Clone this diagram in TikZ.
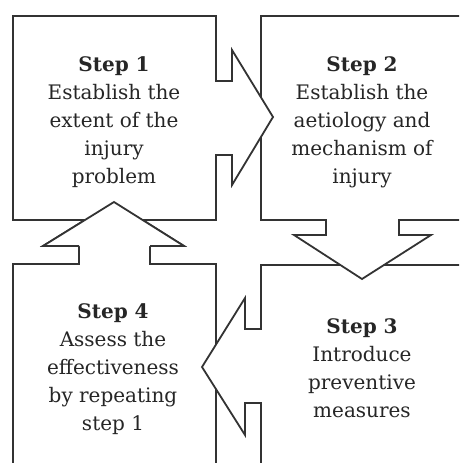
\documentclass[tikz,border=0pt]{standalone}
\usepackage{fontspec}
\setmainfont{DejaVu Serif}
\usetikzlibrary{positioning}

\begin{document}
\begin{tikzpicture}[x=1pt,y=-1pt,
    box/.style={draw=black!80, line width=1.8pt, fill=white, line join=miter},
    steptext/.style={align=center, text=black!85, font=\fontsize{20}{28}\selectfont}]
    \useasboundingbox (0,0) rectangle (459,463);
    \clip (0,0) rectangle (459,463);
    % step 4, arrow up
    \path[box] (13,264) -- (79,264) -- (79,246) -- (43,246) -- (114,202) -- (184,246) -- (150,246) -- (150,264) -- (216,264) -- (216,480) -- (13,480) -- cycle;
    % step 3, arrow left
    \path[box] (261,265) -- (470,265) -- (470,480) -- (261,480) -- (261,403) -- (245,403) -- (245,435) -- (202,367) -- (245,298) -- (245,329) -- (261,329) -- cycle;
    % step 2, arrow down
    \path[box] (261,16) -- (470,16) -- (470,220) -- (399,220) -- (399,235) -- (431,235) -- (362,279) -- (294,235) -- (326,235) -- (326,220) -- (261,220) -- cycle;
    % step 1, arrow right
    \path[box] (13,16) -- (216,16) -- (216,81) -- (232,81) -- (232,50) -- (273,117) -- (232,185) -- (232,155) -- (216,155) -- (216,220) -- (13,220) -- cycle;
    % head of step 4 again, over step 1
    \path[box] (79,246) -- (43,246) -- (114,202) -- (184,246) -- (150,246);
    \node[steptext] (s1) at (114,122) {\textbf{Step 1}\\Establish the\\extent of the\\injury\\problem};
    \node[steptext] (s2) at (362,122) {\textbf{Step 2}\\Establish the\\aetiology and\\mechanism of\\injury};
    \node[steptext] (s3) at (362,368) {\textbf{Step 3}\\Introduce\\preventive\\measures};
    \node[steptext] (s4) at (113,369) {\textbf{Step 4}\\Assess the\\effectiveness\\by repeating\\step 1};
\end{tikzpicture}
\end{document}
